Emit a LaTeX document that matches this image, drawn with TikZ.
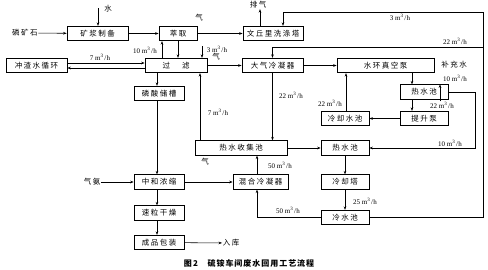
\documentclass[tikz,border=0pt]{standalone}
\usepackage{fontspec}
\setmainfont{Liberation Serif}
\newfontfamily\cjk[LetterSpace=20]{Noto Sans CJK SC}
\newfontfamily\cjkcap[LetterSpace=12]{Noto Sans CJK SC}
\usetikzlibrary{arrows.meta,calc}
\newcommand\mh[1]{#1\ m\textsuperscript{3}\kern0.6pt/\kern0.3pt h}
\begin{document}
\begin{tikzpicture}[x=1pt,y=-1pt,
  box/.style={draw, line width=0.7pt, inner sep=0pt, minimum height=14.5pt, font=\cjk\fontsize{7.5}{9}\selectfont},
  lbl/.style={font=\cjk\fontsize{7.5}{9}\selectfont, inner sep=0.5pt},
  flw/.style={font=\fontsize{7}{8}\selectfont, inner sep=0.5pt},
  arr/.style={line width=0.55pt, -{Stealth[length=3.5pt,width=2.6pt]}}]
\fill[white] (0,0) rectangle (488,269);
\useasboundingbox (0,0) rectangle (488,269);
% boxes
\node[box, minimum width=61pt] (kj) at (97.5,33.5) {矿浆制备};
\node[box, minimum width=38pt] (cq) at (178,33.5) {萃取};
\node[box, minimum width=60pt] (wq) at (273,33.5) {文丘里洗涤塔};
\node[box, minimum width=61pt] (czs) at (36.5,65.5) {冲渣水循环};
\node[box, minimum width=62pt] (gl) at (176,65.5) {过\hspace{1.6em}滤};
\node[box, minimum width=61pt] (dq) at (272.5,65.5) {大气冷凝器};
\node[box, minimum width=97pt] (shk) at (385.5,65.5) {水环真空泵};
\node[box, minimum width=48pt] (rsc1) at (424,92) {热水池};
\node[box, minimum width=48pt] (tsb) at (424,118.5) {提升泵};
\node[box, minimum width=48pt] (lqs) at (345,118.5) {冷却水池};
\node[box, minimum width=50pt] (lscc) at (159,93.5) {磷酸储槽};
\node[box, minimum width=92pt] (rsj) at (241,148) {热水收集池};
\node[box, minimum width=48pt] (rsc2) at (345,148) {热水池};
\node[box, minimum width=50pt] (zh) at (159,182) {中和浓缩};
\node[box, minimum width=55pt] (hh) at (260.5,182) {混合冷凝器};
\node[box, minimum width=48pt] (lqt) at (345,182) {冷却塔};
\node[box, minimum width=50pt] (sl) at (159,213) {速粒干燥};
\node[box, minimum width=50pt] (cp) at (159,242.5) {成品包装};
\node[box, minimum width=48pt] (ls) at (345,217.5) {冷水池};
% free texts
\node[lbl] (ore) at (25,33) {磷矿石};
\node[lbl] (water) at (108,9) {水};
\node[lbl] (nh3) at (92,182) {气氨};
\node[lbl] (rk) at (231,243) {入库};
\node[lbl] (pq) at (258,5) {排气};
\node[lbl] (bcs) at (454,65) {补充水};
\node[lbl] (g1) at (199,18) {气};
\node[lbl] (g2) at (216,57) {气};
\node[lbl] (g3) at (205,162) {气};
% coordinates
\coordinate (wtop) at (98,8);
\coordinate (p1) at ([xshift=-14pt]gl.north);
\coordinate (p3) at (202,46);
\coordinate (p11) at ([xshift=-2pt]lscc.north);
\coordinate (p13) at ([xshift=-41pt]rsj.north);
\coordinate (p16) at ([xshift=-12pt]rsc1.north);
\coordinate (p17) at ([xshift=16pt]rsc1.north);
\coordinate (p20) at ([xshift=1pt]lqs.north);
\coordinate (xr) at (475,0);
\coordinate (xo) at (483,0);
\coordinate (ytop) at (0,12);
\coordinate (y22) at (0,47);
\coordinate (xh) at ([xshift=-3.5pt]hh.south);
\coordinate (wtx) at ([xshift=10pt]wq.north);
\coordinate (pqs) at ([xshift=-13pt]wq.north);
% connectors
\draw[arr] (ore) -- (kj);
\draw[arr] (wtop) -- (wtop |- kj.north);
\draw[arr] (kj) -- (cq);
\draw[arr] (cq) -- (wq);
\draw[arr] (cq.south) -- (cq.south |- gl.north);
\draw[arr] (p1) -- (p1 |- cq.south);
\node[flw] at (145,50) {\mh{10}};
\draw[arr] (p3) -- (p3 |- gl.north);
\node[flw] at (217,49) {\mh{3}};
\draw[arr] ([yshift=2.5pt]czs.east) -- ([yshift=2.5pt]gl.west);
\draw[arr] ([yshift=-2.5pt]gl.west) -- ([yshift=-2.5pt]czs.east);
\node[flw] at (100,57) {\mh{7}};
\draw[arr] (gl) -- (dq);
\draw[arr] (p11 |- gl.south) -- (p11);
\draw[arr] (p11 |- lscc.south) -- (p11 |- zh.north);
\draw[arr] (p13) -- (p13 |- gl.south);
\node[flw] at (218,112) {\mh{7}};
\draw[arr] (dq.south) -- (dq.south |- rsj.north);
\node[flw] at (291,95) {\mh{22}};
\draw[arr] (dq) -- (shk);
\draw[arr] (p16 |- shk.south) -- (p16);
\draw[arr] ([yshift=-17pt]p17) -- (p17);
\node[flw] at (455,78) {\mh{10}};
\draw[arr] (p16 |- rsc1.south) -- (p16 |- tsb.north);
\node[flw] at (442,105) {\mh{22}};
\draw[arr] (tsb) -- (lqs);
\draw[arr] (p20) -- (p20 |- shk.south);
\node[flw] at (330,103) {\mh{22}};
\draw[arr] (rsj) -- (rsc2);
\draw[arr] (rsc1.east) -- (rsc1.east -| xr) -- (rsc2.east -| xr) -- (rsc2.east);
\node[flw] at (450,143) {\mh{10}};
\draw[arr] (rsc2) -- (lqt);
\draw[arr] (lqt) -- (ls);
\node[flw] at (365,201) {\mh{25}};
\draw[arr] (ls.west) -- (ls.west -| xh) -- (xh);
\node[flw] at (288,210) {\mh{50}};
\draw[arr] (xh |- hh.north) -- (xh |- rsj.south);
\node[flw] at (280,165) {\mh{50}};
\draw[arr] (zh) -- (hh);
\draw[arr] (nh3) -- (zh);
\draw[arr] (p11 |- zh.south) -- (p11 |- sl.north);
\draw[arr] (p11 |- sl.south) -- (p11 |- cp.north);
\draw[arr] (cp) -- (rk);
\draw[arr] (ls.east) -- (ls.east -| xo) -- (xo |- ytop) -- (wtx |- ytop) -- (wtx);
\draw[arr] (xo |- y22) -- (dq.north |- y22) -- (dq.north);
\node[flw] at (400,17) {\mh{3}};
\node[flw] at (455,41) {\mh{22}};
\draw[arr] (pqs) -- (pqs |- pq.south);
% caption
\node[font=\cjkcap\bfseries\fontsize{8}{10}\selectfont, inner sep=0pt] (cap) at (249,263) {图\,2\hspace{1.2em}硫铵车间废水回用工艺流程};
\end{tikzpicture}
\end{document}
